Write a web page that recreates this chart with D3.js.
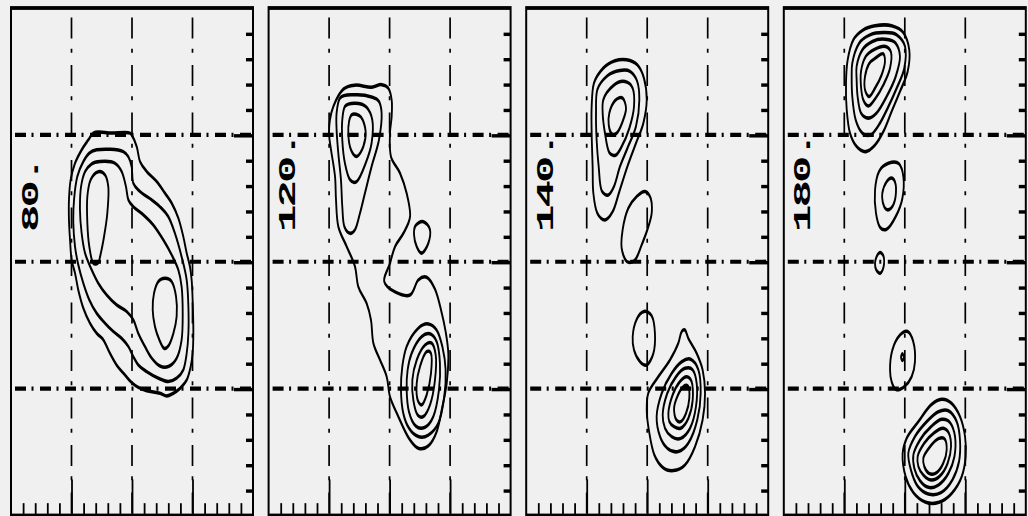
<!DOCTYPE html>
<html>
<head>
<meta charset="utf-8">
<script src="https://cdn.jsdelivr.net/npm/d3@7"></script>
<style>
  html, body { margin: 0; padding: 0; background: #f0f0f0; }
  svg { display: block; }
</style>
</head>
<body>
<svg id="chart" width="1028" height="516"></svg>
<script>
// Panel titles (one per time step)
const panelLabels = ["80.", "120.", "140.", "180."];

// Axis ticks: 20 minor divisions per axis, majors every 5
const xMinorTicks = [1,2,3,4,6,7,8,9,11,12,13,14,16,17,18,19];
const yMinorTicks = [1,2,3,4,6,7,8,9,11,12,13,14,16,17,18,19];
const xMajorTicks = [5, 10, 15];
const yMajorTicks = [5, 10, 15];

// Contour rings for each panel, [x, y] in axis units (0..20 both ways)
const contours80 = [
  [[6.8,15.07],[8.3,15.07],[9.83,15.07],[9.97,15.0],[10.39,14.54],[10.66,13.95],[11.21,13.56],[12.04,13.16],[12.73,12.7],[13.28,12.31],[13.83,11.72],[14.24,10.99],[14.52,10.34],[14.79,9.81],[14.93,9.28],[15.01,8.5],[15.07,7.18],[15.01,6.39],[14.85,5.87],[14.52,5.34],[13.97,5.01],[13.42,4.82],[12.87,4.71],[12.31,4.82],[11.21,4.92],[10.52,5.05],[9.97,5.24],[9.42,5.54],[8.73,5.93],[8.18,6.39],[7.63,6.92],[7.08,7.18],[6.53,7.58],[5.98,8.17],[5.56,8.89],[5.29,9.55],[5.01,10.07],[4.88,10.86],[4.79,11.65],[4.79,12.44],[4.93,13.23],[5.29,13.88],[5.84,14.41],[6.39,14.8]],
  [[7.08,14.41],[9.28,14.34],[9.7,14.14],[9.97,13.75],[10.11,13.09],[10.66,12.77],[11.63,12.44],[12.31,12.17],[13.0,11.78],[13.55,11.12],[14.1,10.2],[14.52,9.28],[14.66,8.23],[14.66,7.18],[14.52,6.39],[14.24,5.74],[13.69,5.41],[13.0,5.28],[12.18,5.41],[11.21,5.67],[10.52,5.93],[10.11,6.26],[9.7,6.66],[9.15,6.98],[8.46,7.25],[7.77,7.58],[7.08,7.97],[6.47,8.5],[5.98,9.15],[5.56,9.88],[5.29,10.6],[5.15,11.52],[5.21,12.44],[5.48,13.36],[5.98,13.95],[6.47,14.28]],
  [[7.36,13.95],[8.6,13.88],[9.15,13.55],[9.5,12.96],[9.7,12.44],[10.11,12.17],[10.94,11.85],[11.76,11.45],[12.59,10.86],[13.28,10.27],[13.83,9.68],[14.1,9.02],[14.19,7.97],[14.1,6.92],[13.69,6.2],[13.0,5.87],[12.31,5.89],[11.63,6.2],[11.07,6.66],[10.52,7.18],[10.11,7.71],[9.56,8.04],[8.73,8.3],[7.91,8.69],[7.22,9.15],[6.67,9.68],[6.12,10.34],[5.84,11.12],[5.7,12.04],[5.79,12.96],[6.12,13.55],[6.67,13.86]],
  [[7.22,13.55],[7.77,13.42],[8.04,12.96],[7.96,11.91],[7.69,10.99],[7.36,10.2],[7.22,9.97],[6.8,9.94],[6.47,10.6],[6.31,11.52],[6.31,12.57],[6.58,13.23]],
  [[12.73,9.35],[13.28,9.22],[13.64,8.63],[13.69,7.84],[13.42,7.18],[13.0,6.68],[12.64,6.59],[12.26,6.92],[11.9,7.44],[11.71,8.1],[11.82,8.76],[12.18,9.22]]
];

const contours120 = [
  [[6.18,16.8],[7.14,16.96],[8.51,16.88],[9.34,16.98],[9.89,16.84],[10.17,16.38],[10.17,15.72],[10.03,15.07],[10.11,14.15],[10.86,13.49],[11.41,12.7],[11.69,11.78],[11.14,11.12],[10.45,10.6],[10.03,9.94],[9.56,9.22],[11.69,8.69],[12.37,9.28],[13.06,9.39],[13.75,8.92],[14.25,8.1],[14.63,7.25],[14.85,6.39],[14.72,5.21],[14.36,4.29],[13.89,3.3],[13.2,2.74],[12.37,2.65],[11.6,3.04],[10.72,3.9],[10.03,4.69],[9.76,5.47],[9.21,6.13],[8.66,6.79],[8.46,7.71],[8.1,8.36],[7.41,9.02],[7.14,9.81],[6.45,10.6],[5.76,11.39],[5.57,12.44],[5.49,13.36],[5.16,14.41],[5.0,15.0],[5.07,15.6],[5.35,16.12]],
  [[5.9,16.45],[7.14,16.58],[8.51,16.49],[9.12,16.32],[9.34,15.86],[9.12,14.8],[8.51,13.75],[7.96,12.7],[7.55,11.91],[7.14,11.26],[6.73,11.12],[6.26,11.39],[6.09,12.18],[5.98,13.23],[5.76,14.28],[5.62,15.2],[5.62,15.86]],
  [[6.31,16.12],[7.14,16.25],[8.1,16.09],[8.57,15.59],[8.51,14.67],[8.02,13.88],[7.28,13.16],[6.73,13.23],[6.31,13.88],[6.09,14.8],[6.09,15.59]],
  [[6.86,15.79],[7.64,15.7],[8.02,15.13],[7.83,14.54],[7.28,14.15],[6.81,14.41],[6.59,15.0],[6.65,15.53]],
  [[12.1,11.39],[12.79,11.58],[13.34,11.26],[13.2,10.73],[12.65,10.34],[12.24,10.6],[12.02,11.06]],
  [[11.41,6.66],[12.37,7.38],[13.2,7.55],[13.89,7.31],[14.36,6.66],[14.63,5.74],[14.52,4.69],[14.03,3.64],[13.2,3.17],[12.37,3.11],[11.6,3.44],[11.13,4.03],[10.94,4.95],[11.05,5.87]],
  [[11.82,6.39],[12.65,7.05],[13.34,7.16],[13.89,6.85],[14.16,6.0],[14.08,4.95],[13.61,3.9],[12.93,3.48],[12.15,3.53],[11.6,4.09],[11.41,4.95],[11.49,5.74]],
  [[12.24,6.13],[12.93,6.72],[13.48,6.79],[13.81,6.33],[13.75,5.34],[13.34,4.36],[12.79,3.9],[12.32,3.96],[11.96,4.55],[11.88,5.34]],
  [[12.51,5.87],[13.06,6.46],[13.42,6.39],[13.42,5.6],[13.06,4.75],[12.65,4.36],[12.32,4.55],[12.24,5.21]]
];

const contours140 = [
  [[5.6,17.04],[6.37,17.63],[7.34,17.92],[8.3,17.96],[9.18,17.76],[9.73,17.24],[9.96,16.38],[9.68,15.46],[9.07,14.67],[8.36,13.75],[7.7,12.77],[7.15,11.98],[6.51,11.65],[5.88,11.91],[5.55,12.7],[5.49,13.75],[5.41,15.07],[5.41,16.12]],
  [[5.88,16.78],[6.71,17.33],[7.75,17.54],[8.58,17.5],[9.18,17.1],[9.35,16.38],[9.07,15.33],[8.36,14.47],[7.75,13.75],[7.25,12.96],[6.79,12.63],[6.24,12.8],[5.99,13.75],[5.82,14.8],[5.77,15.86]],
  [[6.37,16.38],[7.2,16.94],[8.16,17.1],[8.8,16.84],[8.91,16.12],[8.52,15.26],[7.89,14.54],[7.42,14.21],[6.87,14.3],[6.51,15.07],[6.32,15.86]],
  [[6.87,15.86],[7.34,16.35],[7.97,16.45],[8.25,16.05],[7.97,15.53],[7.48,15.07],[7.07,15.04],[6.82,15.4]],
  [[7.97,11.26],[8.44,12.11],[9.13,12.57],[9.82,12.77],[10.29,12.5],[10.37,11.91],[10.01,11.26],[9.54,10.66],[8.99,10.07],[8.31,10.01],[7.89,10.53]],
  [[8.8,7.05],[9.13,7.73],[9.73,8.04],[10.37,7.87],[10.64,7.18],[10.51,6.39],[9.96,5.93],[9.41,6.06],[8.91,6.52]],
  [[9.96,4.16],[10.09,4.82],[10.92,5.47],[11.88,6.13],[12.57,6.79],[12.85,7.25],[13.12,7.31],[13.4,6.98],[14.09,6.39],[14.58,5.74],[14.78,4.82],[14.58,3.77],[13.95,2.71],[13.12,1.99],[12.16,1.77],[11.28,1.9],[10.59,2.39],[10.18,3.24]],
  [[10.78,3.9],[11.2,4.82],[12.02,5.6],[12.85,6.06],[13.59,6.16],[14.23,5.74],[14.42,4.82],[14.14,3.77],[13.4,2.85],[12.57,2.52],[11.66,2.65],[11.06,3.11]],
  [[11.28,3.96],[11.66,4.82],[12.38,5.47],[13.12,5.8],[13.76,5.74],[14.09,5.21],[14.03,4.29],[13.54,3.44],[12.77,3.04],[12.02,3.11],[11.47,3.44]],
  [[11.75,4.03],[12.1,4.75],[12.71,5.28],[13.26,5.47],[13.67,5.28],[13.76,4.55],[13.4,3.83],[12.77,3.44],[12.22,3.5],[11.83,3.7]],
  [[12.22,4.22],[12.49,4.69],[12.99,5.08],[13.4,5.08],[13.48,4.62],[13.21,4.03],[12.77,3.7],[12.38,3.79]]
];

const contours180 = [
  [[5.28,17.96],[5.75,18.75],[6.57,19.14],[7.54,19.3],[8.91,19.3],[9.88,19.03],[10.37,18.35],[10.24,17.5],[9.6,16.71],[8.91,15.92],[8.23,15.13],[7.54,14.6],[6.77,14.34],[6.02,14.54],[5.47,15.07],[5.2,15.99],[5.14,17.04]],
  [[5.66,17.83],[6.22,18.61],[7.12,18.94],[8.23,19.03],[9.33,18.94],[10.02,18.48],[9.96,17.63],[9.33,16.84],[8.58,16.05],[7.87,15.4],[7.18,15.0],[6.49,15.07],[5.94,15.59],[5.66,16.51],[5.61,17.3]],
  [[6.02,17.7],[6.49,18.35],[7.32,18.68],[8.36,18.77],[9.25,18.61],[9.6,18.09],[9.25,17.3],[8.5,16.51],[7.67,15.86],[6.99,15.66],[6.38,15.86],[6.1,16.51],[6.02,17.17]],
  [[6.38,17.5],[6.77,18.09],[7.54,18.38],[8.42,18.48],[8.86,18.25],[8.78,17.63],[8.23,16.97],[7.59,16.45],[6.99,16.14],[6.57,16.38],[6.38,16.91]],
  [[6.71,17.3],[7.04,17.8],[7.67,18.06],[8.23,18.19],[8.36,17.89],[8.09,17.37],[7.54,16.84],[7.04,16.51],[6.71,16.78]],
  [[7.54,12.83],[7.87,13.56],[8.64,13.88],[9.52,13.86],[9.88,13.36],[9.8,12.5],[9.25,11.78],[8.5,11.28],[7.95,11.36],[7.62,11.91]],
  [[8.14,12.7],[8.5,13.16],[8.97,13.29],[9.25,13.03],[9.19,12.44],[8.86,12.11],[8.45,12.07],[8.17,12.37]],
  [[7.62,10.14],[7.95,10.36],[8.25,10.2],[8.25,9.81],[7.97,9.55],[7.62,9.7],[7.54,9.94]],
  [[8.78,5.74],[8.97,6.52],[9.6,7.11],[10.24,7.25],[10.7,6.85],[10.84,6.06],[10.57,5.47],[9.96,5.08],[9.25,4.97],[8.91,5.28]],
  [[9.69,6.24],[9.8,6.37],[9.93,6.24],[9.8,6.11]],
  [[9.82,2.45],[10.15,3.04],[11.12,3.7],[12.17,4.36],[13.05,4.58],[13.87,4.42],[14.56,3.9],[14.98,3.11],[15.03,2.32],[14.7,1.53],[13.87,0.87],[12.83,0.52],[11.73,0.52],[10.71,0.9],[10.07,1.53]],
  [[10.29,2.45],[10.84,3.11],[11.81,3.7],[12.77,4.09],[13.6,4.13],[14.29,3.7],[14.56,2.98],[14.48,2.12],[13.93,1.4],[12.99,0.9],[11.94,0.85],[11.06,1.16],[10.51,1.79]],
  [[10.71,2.39],[11.26,2.98],[12.17,3.5],[13.05,3.79],[13.74,3.66],[14.15,3.11],[14.1,2.32],[13.6,1.66],[12.77,1.2],[11.94,1.11],[11.26,1.37],[10.79,1.85]],
  [[11.06,2.32],[11.61,2.85],[12.44,3.27],[13.18,3.44],[13.65,3.24],[13.82,2.71],[13.54,2.06],[12.91,1.56],[12.17,1.4],[11.53,1.6],[11.12,1.93]],
  [[11.53,2.26],[12.08,2.71],[12.83,3.04],[13.32,3.0],[13.46,2.58],[13.18,2.06],[12.63,1.69],[12.0,1.66],[11.61,1.93]]
];

const panelContours = [contours80, contours120, contours140, contours180];

// ---- layout ----
const W = 1028, H = 516;
const STRETCH = 1.9;                 // the frame is drawn with a tall vertical aspect
const panelLefts = [11, 268.6, 526.2, 783.8];
const panelWidth = 242;
const frameTop = 8 / STRETCH;
const frameBottom = 515.5 / STRETCH;
const ink = "#000";

const svg = d3.select("#chart");
svg.append("rect").attr("width", W).attr("height", H).attr("fill", "#f0f0f0");
const root = svg.append("g").attr("transform", `scale(1,${STRETCH})`);

panelContours.forEach((rings, i) => {
  const left = panelLefts[i];
  const x = d3.scaleLinear().domain([0, 20]).range([left, left + panelWidth]);
  const y = d3.scaleLinear().domain([0, 20]).range([frameBottom, frameTop]);
  const g = root.append("g").attr("class", "panel");

  // dash-dot grid
  g.append("g").selectAll("line").data(xMajorTicks).join("line")
    .attr("x1", d => x(d)).attr("x2", d => x(d))
    .attr("y1", frameTop + 5).attr("y2", frameBottom)
    .attr("stroke", ink).attr("stroke-width", 1.7)
    .attr("stroke-dasharray", "11,5.5,2,6.5");
  g.append("g").selectAll("line").data(yMajorTicks).join("line")
    .attr("x1", x(0) + 4).attr("x2", x(20))
    .attr("y1", d => y(d)).attr("y2", d => y(d))
    .attr("stroke", ink).attr("stroke-width", 2.2)
    .attr("stroke-dasharray", "11,5.5,2,6.5");

  // inward ticks on bottom and right edges
  const styleAxis = a => {
    a.select(".domain").remove();
    a.selectAll("text").remove();
    a.selectAll("line").attr("stroke", ink).attr("stroke-width", 1.8);
  };
  g.append("g").attr("transform", `translate(0,${frameBottom})`)
    .call(d3.axisBottom(x).tickValues(xMinorTicks).tickSizeInner(-6.5).tickSizeOuter(0))
    .call(styleAxis);
  g.append("g").attr("transform", `translate(0,${frameBottom})`)
    .call(d3.axisBottom(x).tickValues(xMajorTicks).tickSizeInner(-19).tickSizeOuter(0))
    .call(styleAxis);
  g.append("g").attr("transform", `translate(${x(20)},0)`)
    .call(d3.axisRight(y).tickValues(yMinorTicks).tickSizeInner(-7).tickSizeOuter(0))
    .call(styleAxis);
  g.append("g").attr("transform", `translate(${x(20)},0)`)
    .call(d3.axisRight(y).tickValues(yMajorTicks).tickSizeInner(-19).tickSizeOuter(0))
    .call(styleAxis);

  // contour rings
  const ring = d3.line()
    .x(d => x(d[0])).y(d => y(d[1]))
    .curve(d3.curveCatmullRomClosed.alpha(0.5));
  g.append("g").selectAll("path").data(rings).join("path")
    .attr("d", ring)
    .attr("fill", "none").attr("stroke", ink).attr("stroke-width", 1.85)
    .attr("stroke-linejoin", "round");

  // frame
  g.append("rect")
    .attr("x", x(0)).attr("y", y(20))
    .attr("width", x(20) - x(0)).attr("height", y(0) - y(20))
    .attr("fill", "none").attr("stroke", ink).attr("stroke-width", 2);

  // vertical panel title
  g.append("text")
    .attr("transform", `translate(${left + 26.5},${232 / STRETCH}) rotate(-90)`)
    .attr("font-family", "'Liberation Mono', 'Courier New', monospace")
    .attr("font-weight", "bold")
    .attr("font-size", 24)
    .attr("letter-spacing", -1.5)
    .attr("fill", ink)
    .text(panelLabels[i]);
});
</script>
</body>
</html>
